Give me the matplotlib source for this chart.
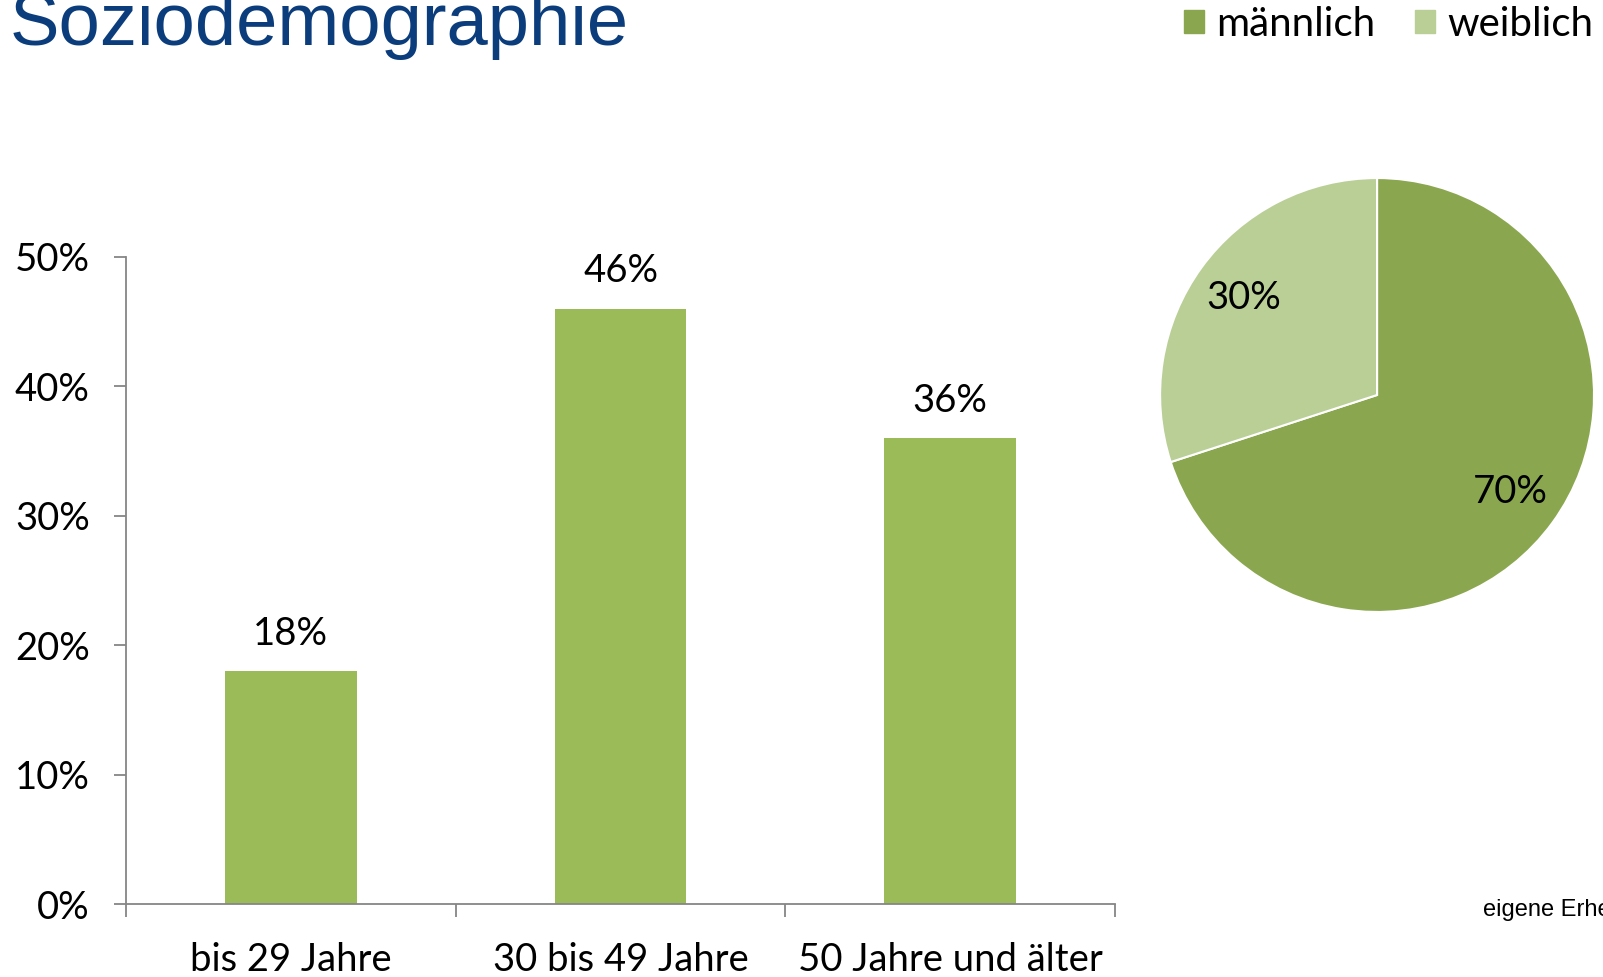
import matplotlib.pyplot as plt
from matplotlib.patches import Patch

age_groups = ["bis 29 Jahre", "30 bis 49 Jahre", "50 Jahre und älter"]
age_share = [18, 46, 36]
gender_labels = ["männlich", "weiblich"]
gender_share = [70, 30]
y_ticks = [0, 10, 20, 30, 40, 50]

bar_color = "#9bbb59"
pie_colors = ["#8aa74f", "#b9cf96"]
axis_grey = "#868686"
font = "Lato"

fig = plt.figure(figsize=(16.03, 9.77), dpi=100)

# bar chart of age groups
ax = fig.add_axes([0.0786, 0.0747, 0.617, 0.6623])
x = range(len(age_groups))
bars = ax.bar(x, age_share, width=0.4, color=bar_color)
ax.set_xlim(-0.5, len(age_groups) - 0.5)
ax.set_ylim(0, 50)
for s in ["top", "right"]:
    ax.spines[s].set_visible(False)
for s in ["left", "bottom"]:
    ax.spines[s].set_color(axis_grey)
    ax.spines[s].set_linewidth(1.3)

ax.set_yticks(y_ticks)
ax.set_yticklabels([f"{v}%" for v in y_ticks], fontsize=27.5, family=font)
ax.tick_params(axis="y", length=9, width=1.3, color=axis_grey, pad=17)

ax.set_xticks([i - 0.5 for i in range(len(age_groups) + 1)])
ax.set_xticklabels([])
ax.tick_params(axis="x", which="major", length=9, width=1.3, color=axis_grey)
ax.set_xticks(list(x), minor=True)
ax.set_xticklabels(age_groups, minor=True, fontsize=27.5, family=font)
ax.tick_params(axis="x", which="minor", length=0, pad=27)

for b, v in zip(bars, age_share):
    ax.annotate(f"{v}%", (b.get_x() + b.get_width() / 2, v),
                xytext=(0, 14), textcoords="offset points",
                ha="center", va="bottom", fontsize=27.5, family=font)

# pie chart of gender
pax = fig.add_axes([0.7237, 0.3736, 0.2707, 0.4442])
wedges, _, autotexts = pax.pie(gender_share, colors=pie_colors, startangle=90,
                               counterclock=False, autopct="%d%%", pctdistance=0.76,
                               wedgeprops=dict(edgecolor="white", linewidth=1.5),
                               textprops=dict(fontsize=27.5, family=font))
pax.set_xlim(-1, 1)
pax.set_ylim(-1, 1)
pax.set_aspect("equal")

handles = [Patch(color=c, label=l) for c, l in zip(pie_colors, gender_labels)]
fig.legend(handles=handles, loc="center right", bbox_to_anchor=(0.994, 0.975),
           ncol=2, frameon=False, prop=dict(family=font, size=29),
           handlelength=0.5, handleheight=0.5, handletextpad=0.3,
           columnspacing=1.0, borderaxespad=0, borderpad=0)

fig.text(0.006, 0.954, "Soziodemographie", fontsize=53.5, family="Liberation Sans",
         color="#0b3d7c", va="baseline", ha="left")
fig.text(0.925, 0.0685, "eigene Erhebung", fontsize=17, family="Liberation Sans",
         va="center", ha="left")

fig.savefig("out.png", dpi=100)
